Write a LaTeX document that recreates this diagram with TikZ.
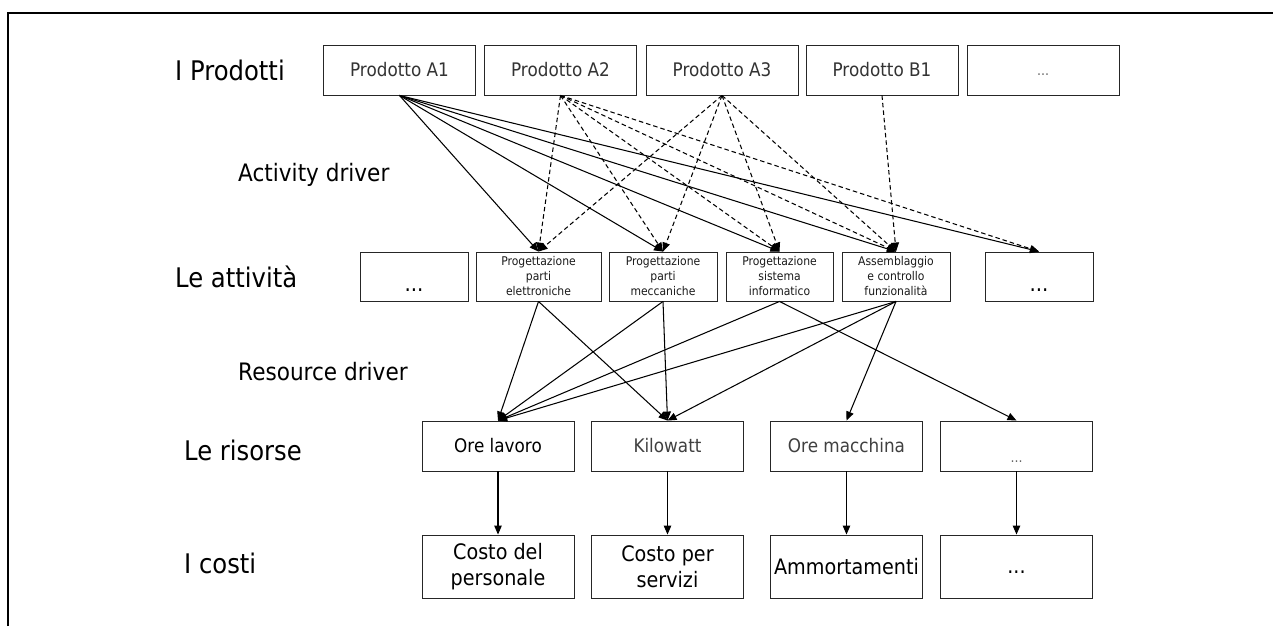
\documentclass[tikz,border=0pt]{standalone}
\usepackage{fontspec}
\setmainfont[FakeStretch=0.9]{DejaVu Sans}
\usetikzlibrary{arrows.meta}
\tikzset{
 box/.style={draw=black!85, line width=0.9pt, inner sep=0pt, align=center, minimum height=50pt},
 lbl/.style={anchor=west, inner sep=0pt, font=\fontsize{27}{32}\selectfont},
 drv/.style={anchor=west, inner sep=0pt, font=\fontsize{24}{28}\selectfont},
 prod/.style={box, minimum width=152pt, text=black!80, font=\fontsize{18.7}{22}\selectfont},
 act/.style={box, minimum height=49pt, text=black!90, font=\fontsize{12}{15}\selectfont},
 res/.style={box, minimum width=152pt, font=\fontsize{18.7}{22}\selectfont},
 cost/.style={box, minimum width=152pt, minimum height=63pt, font=\fontsize{21.3}{26}\selectfont},
 smalldots/.style={inner sep=0pt, text=black!60, font=\fontsize{14}{14}\selectfont},
 bigdots/.style={inner sep=0pt, font=\fontsize{22}{22}\selectfont},
 conn/.style={line width=1.05pt, -{Triangle[length=9pt,width=7.5pt]}},
 dconn/.style={conn, dash pattern=on 4.5pt off 3pt},
}
\begin{document}
\begin{tikzpicture}[x=1pt,y=-1pt]
\useasboundingbox (0,0) rectangle (1273,626);
\draw[line width=2.2pt] (8,626) -- (8,13) -- (1273,13);

% row labels
\node[lbl] (lp) at (175,70) {I Prodotti};
\node[drv] (ld1) at (238,175) {Activity driver};
\node[lbl] (la) at (175,277) {Le attività};
\node[drv] (ld2) at (238,372) {Resource driver};
\node[lbl] (lr) at (184,450) {Le risorse};
\node[lbl] (lc) at (184,563) {I costi};

% products
\node[prod] (p1) at (399.5,70) {Prodotto A1};
\node[prod] (p2) at (560.5,70) {Prodotto A2};
\node[prod] (p3) at (722,70) {Prodotto A3};
\node[prod] (p4) at (882,70) {Prodotto B1};
\node[prod] (p5) at (1043,70) {};
\node[smalldots] (p5t) at (1043,75) {...};

% activities
\node[act, minimum width=108pt] (a0) at (414,276.5) {};
\node[bigdots] (a0t) at (414,290) {...};
\node[act, minimum width=125pt] (a1) at (538.5,276.5) {Progettazione\\parti\\elettroniche};
\node[act, minimum width=108pt] (a2) at (663,276.5) {Progettazione\\parti\\meccaniche};
\node[act, minimum width=107pt] (a3) at (779.5,276.5) {Progettazione\\sistema\\informatico};
\node[act, minimum width=108pt] (a4) at (896,276.5) {Assemblaggio\\e controllo\\funzionalità};
\node[act, minimum width=108pt] (a5) at (1039,276.5) {};
\node[bigdots] (a5t) at (1039,290) {...};

% resources
\node[res] (r1) at (498,446) {Ore lavoro};
\node[res, text=black!75] (r2) at (667.5,446) {Kilowatt};
\node[res, text=black!75] (r3) at (846.5,446) {Ore macchina};
\node[res] (r4) at (1016.5,446) {};
\node[smalldots] (r4t) at (1016.5,462) {...};

% costs
\node[cost] (c1) at (498,566.5) {Costo del\\personale};
\node[cost] (c2) at (667.5,566.5) {Costo per\\servizi};
\node[cost] (c3) at (846.5,566.5) {Ammortamenti};
\node[cost] (c4) at (1016.5,566.5) {};
\node[inner sep=0pt, font=\fontsize{21.3}{22}\selectfont] (c4t) at (1016.5,572) {...};

% activity drivers
\foreach \t in {a1,a2,a3,a4,a5} \draw[conn] (p1.south) -- (\t.north);
\foreach \t in {a1,a2,a3,a4,a5} \draw[dconn] (p2.south) -- (\t.north);
\foreach \t in {a1,a2,a3,a4} \draw[dconn] (p3.south) -- (\t.north);
\draw[dconn] (p4.south) -- (a4.north);

% resource drivers
\draw[conn] (a1.south) -- (r1.north);
\draw[conn] (a1.south) -- (r2.north);
\draw[conn] (a2.south) -- (r1.north);
\draw[conn] (a2.south) -- (r2.north);
\draw[conn] (a3.south) -- (r1.north);
\draw[conn] (a3.south) -- (r4.north);
\draw[conn] (a4.south) -- (r1.north);
\draw[conn] (a4.south) -- (r2.north);
\draw[conn] (a4.south) -- (r3.north);

% resources to costs
\draw[conn] (r1.south) -- (c1.north);
\draw[conn] (r2.south) -- (c2.north);
\draw[conn] (r3.south) -- (c3.north);
\draw[conn] (r4.south) -- (c4.north);
\end{tikzpicture}
\end{document}
